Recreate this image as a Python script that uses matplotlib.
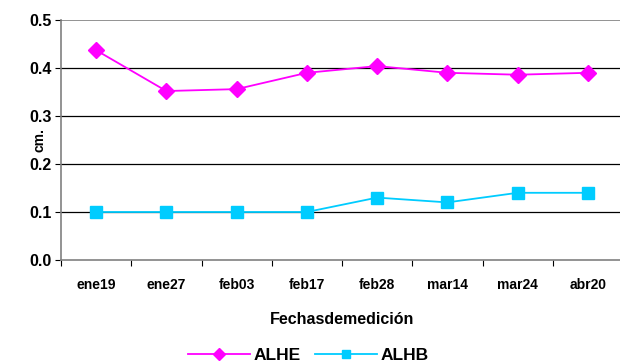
import matplotlib.pyplot as plt

plt.rcParams['font.family'] = ['Liberation Sans', 'DejaVu Sans']
plt.rcParams['font.weight'] = 'bold'

# fechas de medicion y valores
fechas = ['ene19', 'ene27', 'feb03', 'feb17', 'feb28', 'mar14', 'mar24', 'abr20']
alhe = [0.437, 0.352, 0.356, 0.390, 0.404, 0.390, 0.386, 0.390]
alhb = [0.10, 0.10, 0.10, 0.10, 0.13, 0.12, 0.14, 0.14]

fig = plt.figure(figsize=(6.2, 3.62), dpi=100)
ax = fig.add_axes([61/620, 102/362, 562/620, 240/362])

x = range(len(fechas))
ax.plot(x, alhe, color='#ff00ff', marker='D', markersize=8, lw=1.3, label='ALHE')
ax.plot(x, alhb, color='#00ccff', marker='s', markersize=8, lw=1.3, label='ALHB')

ax.set_xlim(-0.5, len(fechas) - 0.5)
ax.set_ylim(0, 0.5)
ax.set_yticks([0, 0.1, 0.2, 0.3, 0.4, 0.5])
ax.set_yticklabels(['0.0', '0.1', '0.2', '0.3', '0.4', '0.5'], fontsize=11.5, fontweight='bold')
for y in [0.1, 0.2, 0.3, 0.4]:
    ax.axhline(y, color='black', lw=0.9, zorder=0)
ax.axhline(0.5, color='#808080', lw=1.2, zorder=0)

# ticks entre categorias
ax.set_xticks([i - 0.5 for i in range(len(fechas) + 1)])
ax.set_xticklabels([])
ax.set_xticks(list(x), minor=True)
ax.set_xticklabels(fechas, minor=True, fontsize=10, fontweight='bold')
ax.tick_params(axis='x', which='minor', length=0, pad=13)
ax.tick_params(axis='x', which='major', length=4, color='black')
ax.tick_params(axis='y', length=4, pad=3)

for s in ['top', 'right']:
    ax.spines[s].set_visible(False)
ax.spines['left'].set_color('#808080')
ax.spines['bottom'].set_color('#808080')
ax.spines['left'].set_linewidth(1.2)
ax.spines['bottom'].set_linewidth(1.2)

ax.set_ylabel('cm.', fontsize=10, fontweight='bold')
ax.yaxis.set_label_coords(-0.025, 0.5)
ax.set_xlabel('Fechasdemedición', fontsize=11.5, fontweight='bold', labelpad=14)

fig.legend(loc='lower center', bbox_to_anchor=(0.497, -0.045), ncol=2, frameon=False,
           prop={'size': 12.5, 'weight': 'bold'}, handlelength=3.6, columnspacing=0.8,
           handletextpad=0.2, markerscale=0.8)

plt.savefig('out.png', dpi=100)
